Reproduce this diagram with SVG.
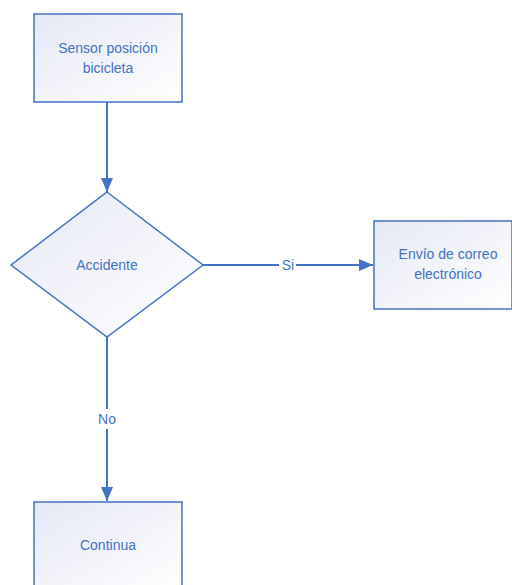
<svg xmlns="http://www.w3.org/2000/svg" width="512" height="585" viewBox="0 0 512 585">
<defs>
<linearGradient id="g" x1="0" y1="0" x2="1" y2="1">
<stop offset="0" stop-color="#e6e8f5"/>
<stop offset="1" stop-color="#ffffff"/>
</linearGradient>
<marker id="ah" markerWidth="14" markerHeight="12" refX="14" refY="6" orient="auto" markerUnits="userSpaceOnUse">
<path d="M0,0 L14,6 L0,12 Z" fill="#4472c4"/>
</marker>
<style>
.n{fill:url(#g);stroke:#4472c4;stroke-width:1.5}
.t{font-family:"Liberation Sans",Arial,sans-serif;font-size:14px;fill:#4472c4;text-anchor:middle}
.c{stroke:#4472c4;stroke-width:2;fill:none}
.lb{fill:#ffffff}
</style>
</defs>
<rect width="512" height="585" fill="#ffffff"/>
<g id="connectors">
<line class="c" x1="107" y1="102" x2="107" y2="192" marker-end="url(#ah)"/>
<line class="c" x1="203" y1="265" x2="373" y2="265" marker-end="url(#ah)"/>
<line class="c" x1="107" y1="337" x2="107" y2="501" marker-end="url(#ah)"/>
<rect class="lb" x="279" y="256" width="17" height="18"/>
<text class="t" x="288" y="270">Si</text>
<rect class="lb" x="96" y="409" width="22" height="20"/>
<text class="t" x="107" y="424">No</text>
</g>
<g id="sensor">
<rect class="n" x="34" y="14" width="148" height="88"/>
<text class="t" x="108" y="53">Sensor posición</text>
<text class="t" x="108" y="73">bicicleta</text>
</g>
<g id="accidente">
<polygon class="n" points="107,192 203,265 107,337 11,265"/>
<text class="t" x="107" y="270">Accidente</text>
</g>
<g id="envio">
<rect class="n" x="374" y="221" width="138" height="88"/>
<text class="t" x="448" y="259">Envío de correo</text>
<text class="t" x="448" y="279">electrónico</text>
</g>
<g id="continua">
<rect class="n" x="34" y="502" width="148" height="90"/>
<text class="t" x="108" y="550">Continua</text>
</g>
</svg>
